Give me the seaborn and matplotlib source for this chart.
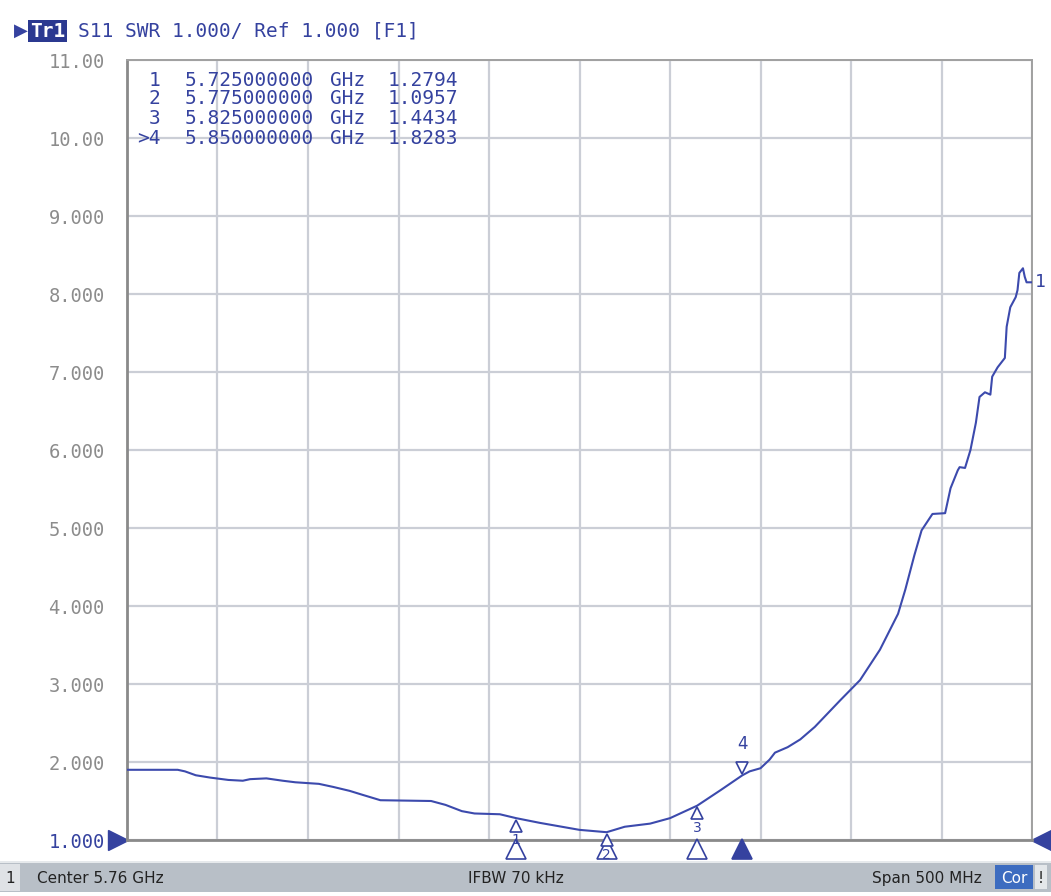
import numpy as np
import pandas as pd
import matplotlib
matplotlib.use("Agg")
import matplotlib.pyplot as plt
import seaborn as sns
from matplotlib.patches import Rectangle
from matplotlib.transforms import offset_copy

# S11 SWR trace
freq_ghz = [5.510, 5.538, 5.542, 5.548, 5.556, 5.566, 5.574, 5.578, 5.587, 5.596,
            5.603, 5.616, 5.624, 5.633, 5.640, 5.650, 5.678, 5.686, 5.695, 5.702,
            5.716, 5.725, 5.738, 5.760, 5.775, 5.785, 5.799, 5.810, 5.825, 5.838,
            5.850, 5.854, 5.860, 5.865, 5.868, 5.875, 5.882, 5.890, 5.904, 5.915,
            5.926, 5.936, 5.940, 5.945, 5.949, 5.955, 5.962, 5.965, 5.969, 5.970,
            5.973, 5.976, 5.979, 5.981, 5.984, 5.987, 5.988, 5.991, 5.995, 5.996,
            5.998, 6.001, 6.002, 6.003, 6.005, 6.006, 6.007, 6.010]
swr = [1.90, 1.90, 1.88, 1.83, 1.80, 1.77, 1.76, 1.78, 1.79, 1.76,
       1.74, 1.72, 1.68, 1.63, 1.58, 1.51, 1.50, 1.45, 1.37, 1.34,
       1.33, 1.28, 1.22, 1.13, 1.10, 1.17, 1.21, 1.28, 1.44, 1.64,
       1.83, 1.88, 1.92, 2.03, 2.12, 2.19, 2.29, 2.45, 2.79, 3.05,
       3.44, 3.90, 4.21, 4.65, 4.97, 5.18, 5.19, 5.51, 5.74, 5.78,
       5.77, 6.00, 6.35, 6.68, 6.74, 6.71, 6.94, 7.06, 7.18, 7.58,
       7.83, 7.96, 8.05, 8.27, 8.33, 8.22, 8.15, 8.15]

marker_ids = ["1", "2", "3", "4"]
marker_freq = [5.725, 5.775, 5.825, 5.850]
marker_swr = [1.2794, 1.0957, 1.4434, 1.8283]

y_ticks = [1, 2, 3, 4, 5, 6, 7, 8, 9, 10, 11]
y_labels = ["1.000", "2.000", "3.000", "4.000", "5.000", "6.000",
            "7.000", "8.000", "9.000", "10.00", "11.00"]
x_ticks = [5.51, 5.56, 5.61, 5.66, 5.71, 5.76, 5.81, 5.86, 5.91, 5.96, 6.01]

header = "S11 SWR 1.000/ Ref 1.000 [F1]"
status_left = "Center 5.76 GHz"
status_mid = "IFBW 70 kHz"
status_right = "Span 500 MHz"

BLUE = "#35429f"
TRACE = "#3c4aad"
GRID = "#cbced6"
MONO = ["DejaVu Sans Mono"]

sns.set_style("white")
plt.rcParams["font.family"] = ["DejaVu Sans"]

df = pd.DataFrame({"freq": freq_ghz, "swr": swr})

fig = plt.figure(figsize=(10.51, 8.96), dpi=100)
ax = fig.add_axes([127 / 1051, 56 / 896, 905 / 1051, 780 / 896])

sns.lineplot(data=df, x="freq", y="swr", ax=ax, color=TRACE, linewidth=1.5,
             zorder=5)

ax.set_xlim(5.51, 6.01)
ax.set_ylim(1, 11)
ax.set_xticks(x_ticks)
ax.set_xticklabels([])
ax.set_yticks(y_ticks, y_labels)
ax.grid(True, color=GRID, linewidth=1.6)
ax.set_xlabel("")
ax.set_ylabel("")
ax.tick_params(axis="both", length=0)
ax.tick_params(axis="y", pad=16)
for lab in ax.get_yticklabels():
    lab.set_fontfamily(MONO)
    lab.set_fontsize(13.5)
    lab.set_color("#8c8c8c")
ax.get_yticklabels()[0].set_color(BLUE)

for side in ["top", "right"]:
    ax.spines[side].set_color("#a0a0a0")
    ax.spines[side].set_linewidth(1.4)
for side in ["left", "bottom"]:
    ax.spines[side].set_color("#8a8a8a")
    ax.spines[side].set_linewidth(2)

# marker table
col_y = [0.974, 0.950, 0.925, 0.900]
for i, mid in enumerate(marker_ids):
    num = (">" + mid) if mid == "4" else mid
    ax.text(0.037, col_y[i], num, transform=ax.transAxes, ha="right", va="center",
            color=BLUE, fontsize=14, family=MONO)
    ax.text(0.064, col_y[i], f"{marker_freq[i]:.9f}", transform=ax.transAxes,
            ha="left", va="center", color=BLUE, fontsize=14, family=MONO)
    ax.text(0.224, col_y[i], "GHz", transform=ax.transAxes, ha="left",
            va="center", color=BLUE, fontsize=14, family=MONO)
    ax.text(0.288, col_y[i], f"{marker_swr[i]:.4f}", transform=ax.transAxes,
            ha="left", va="center", color=BLUE, fontsize=14, family=MONO)

# markers on the trace
for i, mid in enumerate(marker_ids):
    if mid == "4":
        tr = offset_copy(ax.transData, fig=fig, x=0, y=5.5, units="points")
        ax.plot(marker_freq[i], marker_swr[i], marker="v", ms=8, mfc="white",
                mec=BLUE, mew=1.2, transform=tr, zorder=6, clip_on=False)
        tr2 = offset_copy(ax.transData, fig=fig, x=0, y=16, units="points")
        ax.text(marker_freq[i], marker_swr[i], mid, transform=tr2, ha="center",
                va="bottom", color=BLUE, fontsize=12, zorder=6)
    else:
        tr = offset_copy(ax.transData, fig=fig, x=0, y=-5.5, units="points")
        ax.plot(marker_freq[i], marker_swr[i], marker="^", ms=8, mfc="white",
                mec=BLUE, mew=1.2, transform=tr, zorder=8, clip_on=False)
        tr2 = offset_copy(ax.transData, fig=fig, x=0, y=-11, units="points")
        ax.text(marker_freq[i], marker_swr[i], mid, transform=tr2, ha="center",
                va="top", color=BLUE, fontsize=10, zorder=8)

# marker position triangles under the grid
xt = ax.get_xaxis_transform()
for i, mid in enumerate(marker_ids):
    filled = mid == "4"
    ax.plot(marker_freq[i], -0.011, marker="^", ms=14,
            mfc=BLUE if filled else "white", mec=BLUE, mew=1.2,
            transform=xt, clip_on=False, zorder=7)

# reference level arrows
yt = ax.get_yaxis_transform()
ax.plot(-0.01, 1, marker=">", ms=15, color=BLUE, transform=yt, clip_on=False)
ax.plot(1.01, 1, marker="<", ms=15, color=BLUE, transform=yt, clip_on=False)
ax.text(1.003, swr[-1], "1", transform=yt, ha="left", va="center", color=BLUE,
        fontsize=13, family=MONO)

# header line
fig.text(14 / 1051, 0.9654, "\u25b6", color=BLUE, fontsize=13, va="center")
fig.text(30 / 1051, 0.9654, "Tr1", color="white", fontsize=14, va="center",
         family=MONO, fontweight="bold",
         bbox=dict(boxstyle="square,pad=0.08", fc="#2b3990", ec="none"))
fig.text(78 / 1051, 0.9654, header, color=BLUE, fontsize=14, va="center",
         family=MONO)

# status bar
fig.patches.append(Rectangle((0, 0.004), 1, 0.034, transform=fig.transFigure,
                             fc="#b8bfc7", ec="none", zorder=0))
fig.patches.append(Rectangle((0, 0.037), 1, 0.002, transform=fig.transFigure,
                             fc="#e6e9ec", ec="none", zorder=0))
fig.patches.append(Rectangle((0, 0.006), 20 / 1051, 0.030,
                             transform=fig.transFigure, fc="#dfe2e6", ec="none"))
fig.text(5 / 1051, 0.020, "1", fontsize=11, va="center", color="#222222")
fig.text(37 / 1051, 0.020, status_left, fontsize=11, va="center", color="#222222")
fig.text(516 / 1051, 0.020, status_mid, fontsize=11, va="center", ha="center",
         color="#222222")
fig.text(982 / 1051, 0.020, status_right, fontsize=11, va="center", ha="right",
         color="#222222")
fig.patches.append(Rectangle((995 / 1051, 0.008), 38 / 1051, 0.027,
                             transform=fig.transFigure, fc="#3d6cc0", ec="none"))
fig.text(1014 / 1051, 0.020, "Cor", fontsize=11, va="center", ha="center",
         color="white")
fig.patches.append(Rectangle((1035 / 1051, 0.008), 12 / 1051, 0.027,
                             transform=fig.transFigure, fc="#e4e7ea", ec="none"))
fig.text(1041 / 1051, 0.020, "!", fontsize=11, va="center", ha="center",
         color="#222222")

fig.savefig("out.png", dpi=100)
